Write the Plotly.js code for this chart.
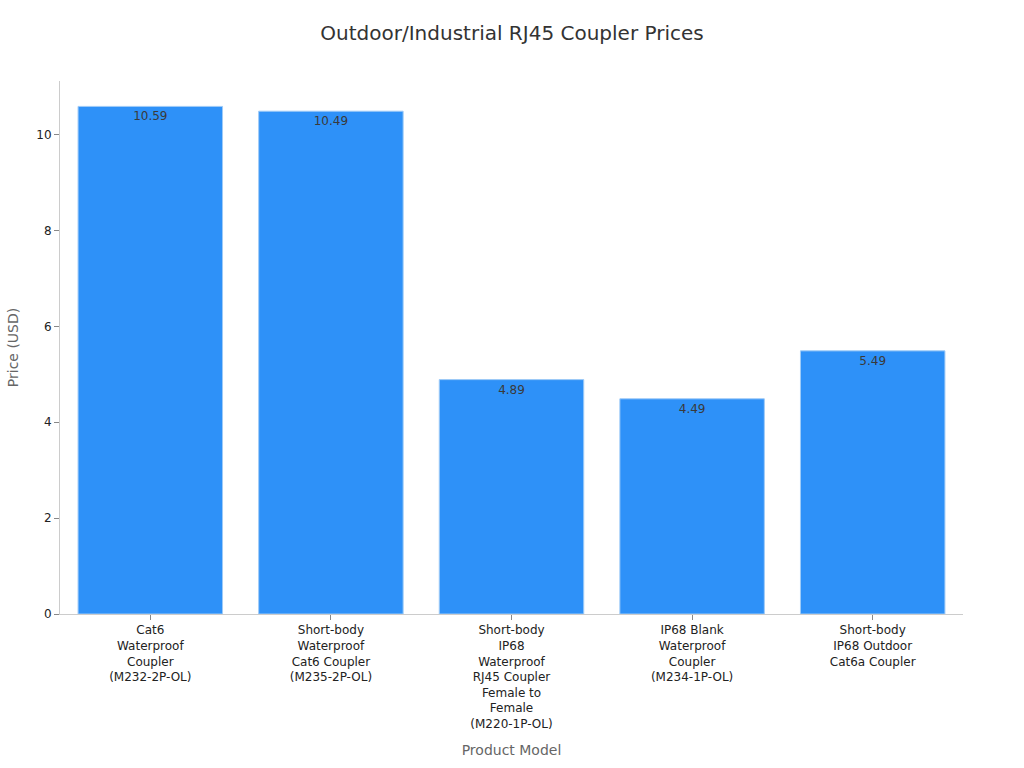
<!DOCTYPE html>
<html>
<head>
<meta charset="utf-8">
<script src="https://cdn.plot.ly/plotly-3.0.1.min.js"></script>
<style>
  body { margin: 0; }
  #chart { width: 1024px; height: 768px; }
</style>
</head>
<body>
<div id="chart"></div>
<script>
var models = [
  'Cat6<br>Waterproof<br>Coupler<br>(M232-2P-OL)',
  'Short-body<br>Waterproof<br>Cat6 Coupler<br>(M235-2P-OL)',
  'Short-body<br>IP68<br>Waterproof<br>RJ45 Coupler<br>Female to<br>Female<br>(M220-1P-OL)',
  'IP68 Blank<br>Waterproof<br>Coupler<br>(M234-1P-OL)',
  'Short-body<br>IP68 Outdoor<br>Cat6a Coupler'
];
var prices = [10.59, 10.49, 4.89, 4.49, 5.49];

var trace = {
  x: models,
  y: prices,
  type: 'bar',
  text: prices.map(function (p) { return p.toFixed(2); }),
  textposition: 'inside',
  insidetextanchor: 'end',
  textfont: { color: '#3a3a3a', size: 12 },
  marker: {
    color: '#2E91F8',
    line: { color: '#9FCBF7', width: 1 }
  },
  hoverinfo: 'none'
};

var layout = {
  width: 1024,
  height: 768,
  font: { family: 'DejaVu Sans, sans-serif', color: '#222222', size: 12 },
  title: {
    text: 'Outdoor/Industrial RJ45 Coupler Prices',
    font: { size: 20, color: '#333333' },
    x: 0.5,
    y: 0.966
  },
  margin: { l: 60, r: 61, t: 81, b: 154 },
  bargap: 0.2,
  showlegend: false,
  plot_bgcolor: '#ffffff',
  paper_bgcolor: '#ffffff',
  xaxis: {
    title: { text: 'Product Model', font: { size: 14, color: '#666666' }, standoff: 15 },
    showline: true,
    linecolor: '#cccccc',
    ticks: 'outside',
    tickcolor: '#888888',
    ticklen: 5,
    tickangle: 0,
    showgrid: false
  },
  yaxis: {
    title: { text: 'Price (USD)', font: { size: 14, color: '#666666' }, standoff: 14 },
    range: [0, 11.12],
    dtick: 2,
    showline: true,
    linecolor: '#cccccc',
    ticks: 'outside',
    tickcolor: '#888888',
    ticklen: 5,
    showgrid: false,
    zeroline: false
  }
};

Plotly.newPlot('chart', [trace], layout, { staticPlot: true });
</script>
</body>
</html>
